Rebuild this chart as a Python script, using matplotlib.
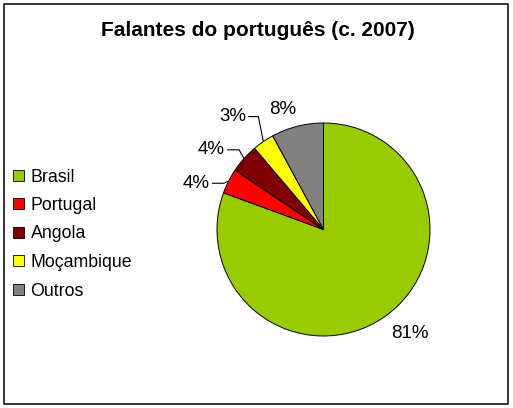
import matplotlib
matplotlib.use("Agg")
import matplotlib.pyplot as plt
from matplotlib.patches import Rectangle
import numpy as np

# ---- data ----
categories = ["Brasil", "Portugal", "Angola", "Moçambique", "Outros"]
shares = [80.6, 3.8, 4.4, 3.3, 7.9]
label_texts = ["81%", "4%", "4%", "3%", "8%"]
colors = ["#99CC00", "#FF0000", "#800000", "#FFFF00", "#808080"]
title = "Falantes do português (c. 2007)"

# ---- layout ----
W, H, DPI = 513, 408, 100
plt.rcParams['font.family'] = ['Liberation Sans', 'DejaVu Sans']
fig = plt.figure(figsize=(W / DPI, H / DPI), dpi=DPI)
fig.patch.set_facecolor("white")

# frame around the chart
fig.add_artist(Rectangle((4 / W, 4 / H), 504 / W, 400 / H, transform=fig.transFigure,
                         fill=False, edgecolor="black", linewidth=1.1))

fig.text(258 / W, 1 - 30 / H, title, ha="center", va="center",
         fontsize=15, fontweight="bold")

# pie axes: center (323.5, 229.5) px from top, radius 106.5 px
R = 106.5
half = 150
cx, cy = 323.5, H - 229.5
ax = fig.add_axes([(cx - half) / W, (cy - half) / H, 2 * half / W, 2 * half / H])
lim = half / R

wedges, _ = ax.pie(shares, colors=colors, startangle=90, counterclock=False,
                   radius=1.0, center=(0, 0), frame=True,
                   wedgeprops=dict(edgecolor="black", linewidth=0.7))
ax.set_xlim(-lim, lim)
ax.set_ylim(-lim, lim)
ax.set_aspect("equal")
ax.axis("off")

# label placement (layout): radial distance and angular nudge from wedge middle
label_r = [1.27, 1.27, 1.29, 1.36, 1.19]
label_nudge = [4.7, 7.0, 6.3, 4.4, 4.5]
use_leader = [False, True, True, True, False]

texts = []
mids = []
for w, txt, r, nd in zip(wedges, label_texts, label_r, label_nudge):
    mid = np.deg2rad((w.theta1 + w.theta2) / 2)
    mids.append(mid)
    a = mid + np.deg2rad(nd)
    t = ax.text(r * np.cos(a), r * np.sin(a), txt, ha="center", va="center",
                fontsize=13.5)
    texts.append(t)

fig.canvas.draw()
renderer = fig.canvas.get_renderer()
inv = ax.transData.inverted()
px = 1.0 / R  # one pixel in data units
for t, mid, lead in zip(texts, mids, use_leader):
    if not lead:
        continue
    bb = t.get_window_extent(renderer)
    right = inv.transform((bb.x1, (bb.y0 + bb.y1) / 2))
    ty = t.get_position()[1]
    ex, ey = np.cos(mid), np.sin(mid)
    elbow_x = ex - 5 * px
    ax.plot([ex, elbow_x, right[0] + 2 * px], [ey, ty, ty], color="black",
            linewidth=0.8, solid_capstyle="butt")

# legend (drawn manually)
leg_y0 = 175
leg_dy = 28.5
for i, (name, c) in enumerate(zip(categories, colors)):
    yc = H - (leg_y0 + i * leg_dy)
    fig.add_artist(Rectangle((13 / W, (yc - 5.5) / H), 11 / W, 11 / H,
                             transform=fig.transFigure, facecolor=c,
                             edgecolor="black", linewidth=0.6))
    fig.text(30.5 / W, yc / H, name, ha="left", va="center_baseline",
             fontsize=12.8)

fig.savefig("out.png", dpi=DPI, facecolor="white")
